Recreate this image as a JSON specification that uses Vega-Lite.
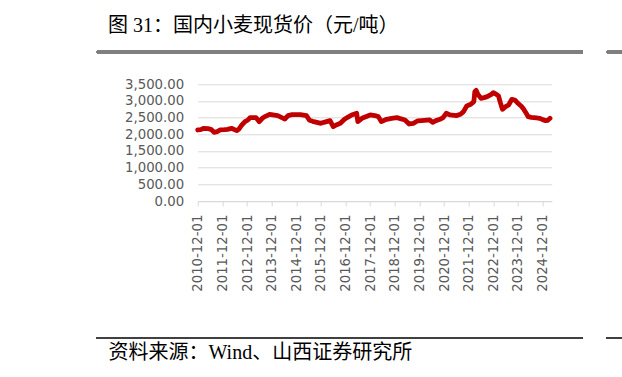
{
  "$schema": "https://vega.github.io/schema/vega-lite/v6.json",
  "background": "white",
  "autosize": {"type": "none"},
  "width": 354,
  "height": 116.7,
  "padding": {"left": 197.7, "top": 84.3, "right": 70.3, "bottom": 176},
  "config": {"view": {"stroke": null}, "font": "DejaVu Sans"},
  "title": {"text": "图 31：国内小麦现货价（元/吨）", "anchor": "start", "frame": "group", "dx": -89.7, "font": "Liberation Serif, Noto Sans CJK SC", "fontSize": 20, "fontWeight": "normal", "color": "#000000", "offset": 15},
  "data": {"values": [
    {"date": "2010-12-01", "price": 2130},
    {"date": "2011-01-15", "price": 2140},
    {"date": "2011-03-01", "price": 2180},
    {"date": "2011-05-01", "price": 2170},
    {"date": "2011-06-15", "price": 2150},
    {"date": "2011-08-01", "price": 2060},
    {"date": "2011-09-15", "price": 2080},
    {"date": "2011-11-01", "price": 2130},
    {"date": "2012-01-01", "price": 2140},
    {"date": "2012-02-15", "price": 2150},
    {"date": "2012-04-15", "price": 2180},
    {"date": "2012-07-01", "price": 2110},
    {"date": "2012-08-01", "price": 2150},
    {"date": "2012-09-15", "price": 2280},
    {"date": "2012-11-01", "price": 2380},
    {"date": "2012-12-15", "price": 2430},
    {"date": "2013-01-15", "price": 2500},
    {"date": "2013-04-15", "price": 2500},
    {"date": "2013-06-01", "price": 2380},
    {"date": "2013-07-15", "price": 2480},
    {"date": "2013-09-01", "price": 2540},
    {"date": "2013-11-01", "price": 2600},
    {"date": "2014-03-01", "price": 2560},
    {"date": "2014-05-01", "price": 2500},
    {"date": "2014-06-15", "price": 2460},
    {"date": "2014-08-01", "price": 2560},
    {"date": "2014-10-01", "price": 2590},
    {"date": "2015-02-01", "price": 2590},
    {"date": "2015-05-01", "price": 2560},
    {"date": "2015-06-15", "price": 2420},
    {"date": "2015-08-01", "price": 2390},
    {"date": "2015-10-01", "price": 2360},
    {"date": "2015-12-01", "price": 2330},
    {"date": "2016-01-15", "price": 2360},
    {"date": "2016-04-15", "price": 2410},
    {"date": "2016-06-01", "price": 2230},
    {"date": "2016-07-15", "price": 2280},
    {"date": "2016-09-15", "price": 2330},
    {"date": "2016-11-15", "price": 2450},
    {"date": "2017-01-01", "price": 2510},
    {"date": "2017-03-01", "price": 2580},
    {"date": "2017-05-15", "price": 2630},
    {"date": "2017-06-01", "price": 2380},
    {"date": "2017-08-01", "price": 2480},
    {"date": "2017-12-01", "price": 2580},
    {"date": "2018-03-01", "price": 2550},
    {"date": "2018-04-01", "price": 2530},
    {"date": "2018-05-15", "price": 2380},
    {"date": "2018-08-01", "price": 2450},
    {"date": "2018-10-15", "price": 2480},
    {"date": "2019-01-01", "price": 2500},
    {"date": "2019-05-01", "price": 2430},
    {"date": "2019-07-01", "price": 2310},
    {"date": "2019-09-01", "price": 2330},
    {"date": "2019-11-01", "price": 2400},
    {"date": "2020-01-01", "price": 2410},
    {"date": "2020-05-01", "price": 2430},
    {"date": "2020-06-15", "price": 2360},
    {"date": "2020-08-01", "price": 2410},
    {"date": "2020-10-01", "price": 2450},
    {"date": "2020-11-15", "price": 2500},
    {"date": "2021-01-01", "price": 2630},
    {"date": "2021-03-01", "price": 2580},
    {"date": "2021-06-01", "price": 2560},
    {"date": "2021-08-01", "price": 2600},
    {"date": "2021-09-15", "price": 2680},
    {"date": "2021-11-01", "price": 2850},
    {"date": "2022-01-01", "price": 2900},
    {"date": "2022-02-15", "price": 2980},
    {"date": "2022-03-01", "price": 3280},
    {"date": "2022-03-20", "price": 3320},
    {"date": "2022-04-15", "price": 3200},
    {"date": "2022-06-01", "price": 3080},
    {"date": "2022-07-15", "price": 3100},
    {"date": "2022-09-01", "price": 3130},
    {"date": "2022-11-01", "price": 3200},
    {"date": "2022-12-01", "price": 3250},
    {"date": "2023-01-15", "price": 3200},
    {"date": "2023-02-15", "price": 3150},
    {"date": "2023-03-15", "price": 2950},
    {"date": "2023-04-15", "price": 2750},
    {"date": "2023-06-01", "price": 2830},
    {"date": "2023-07-15", "price": 2880},
    {"date": "2023-09-01", "price": 3050},
    {"date": "2023-10-15", "price": 3030},
    {"date": "2023-12-01", "price": 2930},
    {"date": "2024-01-15", "price": 2850},
    {"date": "2024-02-15", "price": 2780},
    {"date": "2024-04-01", "price": 2630},
    {"date": "2024-05-01", "price": 2530},
    {"date": "2024-06-15", "price": 2510},
    {"date": "2024-09-01", "price": 2490},
    {"date": "2024-10-15", "price": 2480},
    {"date": "2024-12-01", "price": 2440},
    {"date": "2025-01-15", "price": 2410},
    {"date": "2025-02-15", "price": 2420},
    {"date": "2025-03-20", "price": 2480}
  ]},
  "encoding": {
    "x": {
      "field": "date", "type": "temporal",
      "scale": {"type": "utc", "nice": false, "domain": [{"year": 2010, "month": 12, "date": 1, "utc": true}, {"year": 2025, "month": 4, "date": 14, "utc": true}]},
      "axis": {
        "values": [
          {"year": 2010, "month": 12, "date": 1, "utc": true},
          {"year": 2011, "month": 12, "date": 1, "utc": true},
          {"year": 2012, "month": 12, "date": 1, "utc": true},
          {"year": 2013, "month": 12, "date": 1, "utc": true},
          {"year": 2014, "month": 12, "date": 1, "utc": true},
          {"year": 2015, "month": 12, "date": 1, "utc": true},
          {"year": 2016, "month": 12, "date": 1, "utc": true},
          {"year": 2017, "month": 12, "date": 1, "utc": true},
          {"year": 2018, "month": 12, "date": 1, "utc": true},
          {"year": 2019, "month": 12, "date": 1, "utc": true},
          {"year": 2020, "month": 12, "date": 1, "utc": true},
          {"year": 2021, "month": 12, "date": 1, "utc": true},
          {"year": 2022, "month": 12, "date": 1, "utc": true},
          {"year": 2023, "month": 12, "date": 1, "utc": true},
          {"year": 2024, "month": 12, "date": 1, "utc": true}
        ],
        "format": "%Y-%m-%d",
        "labelAngle": -90,
        "labelAlign": "right",
        "labelBaseline": "middle",
        "labelColor": "#595959",
        "labelFontSize": 13.3,
        "labelPadding": 8,
        "labelOverlap": false,
        "labelBound": false,
        "labelFlush": false,
        "grid": false,
        "domainColor": "#d9d9d9",
        "tickColor": "#d9d9d9",
        "tickSize": 5,
        "title": "资料来源：Wind、山西证券研究所",
        "titleFont": "Liberation Serif, Noto Sans CJK SC",
        "titleFontSize": 20,
        "titleFontWeight": "normal",
        "titleColor": "#000000",
        "titleAnchor": "start",
        "titleAlign": "left",
        "titleBaseline": "middle",
        "titleX": -89.7,
        "titleY": 151
      }
    },
    "y": {
      "field": "price", "type": "quantitative",
      "scale": {"domain": [0, 3500], "nice": false},
      "axis": {
        "values": [0, 500, 1000, 1500, 2000, 2500, 3000, 3500],
        "format": ",.2f",
        "grid": true,
        "gridColor": "#d9d9d9",
        "domain": false,
        "ticks": false,
        "labelPadding": 14,
        "labelColor": "#595959",
        "labelFontSize": 13.3,
        "labelOverlap": false,
        "labelFlush": false,
        "title": null
      }
    }
  },
  "layer": [
    {
      "mark": {"type": "rule", "color": "#7f7f7f", "strokeWidth": 2.5, "clip": false},
      "encoding": {
        "x": {"datum": {"year": 2006, "month": 10, "date": 29, "utc": true}},
        "x2": {"datum": {"year": 2026, "month": 7, "date": 20, "utc": true}},
        "y": {"datum": 4470}
      }
    },
    {
      "mark": {"type": "rule", "color": "#7f7f7f", "strokeWidth": 2.5, "clip": false},
      "encoding": {
        "x": {"datum": {"year": 2027, "month": 7, "date": 12, "utc": true}},
        "x2": {"datum": {"year": 2028, "month": 6, "date": 1, "utc": true}},
        "y": {"datum": 4470}
      }
    },
    {
      "mark": {"type": "rule", "color": "#404040", "strokeWidth": 1.5, "clip": false},
      "encoding": {
        "x": {"datum": {"year": 2006, "month": 10, "date": 29, "utc": true}},
        "x2": {"datum": {"year": 2026, "month": 7, "date": 20, "utc": true}},
        "y": {"datum": -4110}
      }
    },
    {
      "mark": {"type": "rule", "color": "#404040", "strokeWidth": 1.5, "clip": false},
      "encoding": {
        "x": {"datum": {"year": 2027, "month": 7, "date": 12, "utc": true}},
        "x2": {"datum": {"year": 2028, "month": 6, "date": 1, "utc": true}},
        "y": {"datum": -4110}
      }
    },
    {
      "mark": {"type": "line", "color": "#C00000", "strokeWidth": 4.8, "strokeJoin": "round", "strokeCap": "round", "clip": false}
    }
  ]
}
